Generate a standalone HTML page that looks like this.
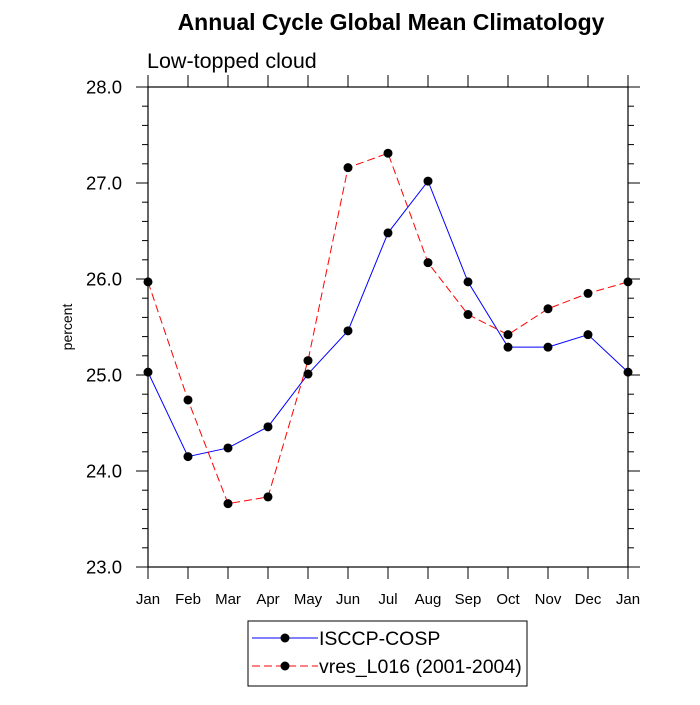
<!DOCTYPE html>
<html><head><meta charset="utf-8"><style>
html,body{margin:0;padding:0;background:#fff;}
svg text{font-family:"Liberation Sans",sans-serif;}
</style></head><body>
<svg id="chart" width="700" height="700" viewBox="0 0 700 700" xmlns="http://www.w3.org/2000/svg">
<text x="391" y="30" font-size="23" font-weight="bold" text-anchor="middle">Annual Cycle Global Mean Climatology</text>
<text x="147" y="68" font-size="21.5">Low-topped cloud</text>
<text transform="translate(72,327) rotate(-90)" font-size="14" text-anchor="middle">percent</text>
<g id="axes"></g>
<g id="series"></g>
<g>
<rect x="248" y="621" width="279" height="65" fill="#fff" stroke="#000" stroke-width="1"/>
<line x1="252" y1="638" x2="318" y2="638" stroke="#0000ff" stroke-width="1"/>
<circle cx="285" cy="638" r="4.5" fill="#000"/>
<text x="319" y="645" font-size="19.5">ISCCP-COSP</text>
<line x1="252" y1="666" x2="318" y2="666" stroke="#ff0000" stroke-width="1" stroke-dasharray="8,4"/>
<circle cx="285" cy="666" r="4.5" fill="#000"/>
<text x="319" y="673" font-size="19.5">vres_L016 (2001-2004)</text>
</g>
</svg>
<script>
const months = ["Jan","Feb","Mar","Apr","May","Jun","Jul","Aug","Sep","Oct","Nov","Dec","Jan"];
const isccp = [25.03,24.15,24.24,24.46,25.01,25.46,26.48,27.02,25.97,25.29,25.29,25.42,25.03];
const vres = [25.97,24.74,23.66,23.73,25.15,27.16,27.31,26.17,25.63,25.42,25.69,25.85,25.97];
const yTicks = [23.0,24.0,25.0,26.0,27.0,28.0];
const yMin=23, yMax=28;
const X0=148,X1=628,Y0=567,Y1=87;
const xs=i=>X0+(X1-X0)*i/(months.length-1);
const ys=v=>Y0-(Y0-Y1)*(v-yMin)/(yMax-yMin);
const NS="http://www.w3.org/2000/svg";
function mk(tag,attrs,parent){const e=document.createElementNS(NS,tag);for(const k in attrs)e.setAttribute(k,attrs[k]);parent.appendChild(e);return e;}
const ax=document.getElementById('axes');
const frame=mk('rect',{x:X0,y:Y1,width:X1-X0,height:Y0-Y1,fill:'none',stroke:'#000','stroke-width':1.2},ax);


months.forEach((m,i)=>{
  const x=xs(i);
  mk('line',{x1:x,y1:Y0,x2:x,y2:Y0+12,stroke:'#000'},ax);
  mk('line',{x1:x,y1:Y1,x2:x,y2:Y1-12,stroke:'#000'},ax);
  const t=mk('text',{x:x,y:604,'font-size':15,'text-anchor':'middle'},ax);
  t.textContent=m;
  
  
});
for(let v=yMin;v<=yMax+1e-9;v+=0.2){
  const y=ys(v);const major=Math.abs(v-Math.round(v))<1e-6;const L=major?12:6;
  mk('line',{x1:X0,y1:y,x2:X0-L,y2:y,stroke:'#000'},ax);
  mk('line',{x1:X1,y1:y,x2:X1+L,y2:y,stroke:'#000'},ax);
}
yTicks.forEach(v=>{
  const t=mk('text',{x:122,y:ys(v)+6.5,'font-size':18.5,'text-anchor':'end'},ax);
  t.textContent=v.toFixed(1);
  
  
});
const sg=document.getElementById('series');
function series(vals,color,dash,name){
  const g=mk('g',{},sg);
  
  
  mk('polyline',{points:vals.map((v,i)=>xs(i)+','+ys(v)).join(' '),fill:'none',stroke:color,'stroke-width':1,'stroke-dasharray':dash},g);
  vals.forEach((v,i)=>{
    const c=mk('circle',{cx:xs(i),cy:ys(v),r:4.5,fill:'#000'},g);
    
    
  });
}
series(isccp,'#0000ff','none','series-isccp');
series(vres,'#ff0000','8,4','series-vres');
</script>
</body></html>
